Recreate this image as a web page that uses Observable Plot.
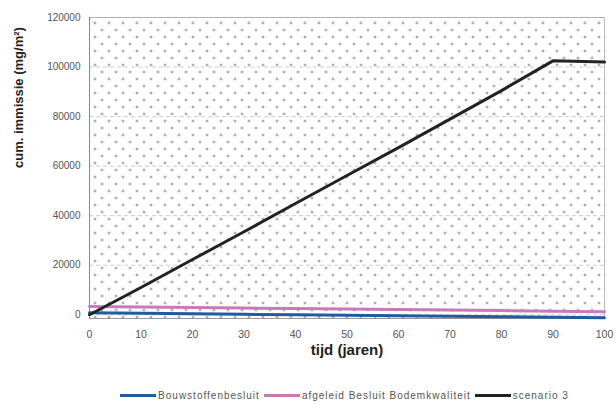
<!DOCTYPE html>
<html>
<head>
<meta charset="utf-8">
<script src="https://cdn.jsdelivr.net/npm/d3@7"></script>
<script src="https://cdn.jsdelivr.net/npm/@observablehq/plot@0.6"></script>
<style>
  body { margin: 0; background: #fff; font-family: "Liberation Sans", Arial, sans-serif; }
  #chart svg { display: block; }
  .legend { display: flex; justify-content: center; align-items: center; height: 20px; font-size: 10px; letter-spacing: 1px; color: #555; padding-left: 70px; }
  .legend span.sw { display: inline-block; width: 36px; height: 3px; margin: 0 2px 0 4px; vertical-align: middle; }
</style>
</head>
<body>
<div id="chart"></div>
<div class="legend" id="legend"></div>
<script>
// Cumulative immission (mg/m²) over time (years) for three cases
const years = [0, 10, 20, 30, 40, 50, 60, 70, 80, 90, 100];
const bouwstoffen = [800, 600, 400, 200, 0, -200, -400, -600, -800, -1000, -1200];
const bodemkwaliteit = [3300, 3100, 2900, 2700, 2500, 2300, 2100, 1900, 1700, 1400, 1200];
const scenario3 = [0, 11000, 22300, 33500, 44900, 56200, 67500, 79000, 90500, 102500, 102000];

const seriesNames = ["Bouwstoffenbesluit", "afgeleid Besluit Bodemkwaliteit", "scenario 3"];
const seriesColors = ["#1f5b9e", "#c87ab8", "#222222"];
const seriesValues = [bouwstoffen, bodemkwaliteit, scenario3];

const yTicks = [0, 20000, 40000, 60000, 80000, 100000, 120000];
const xTicks = [0, 10, 20, 30, 40, 50, 60, 70, 80, 90, 100];

const rows = seriesNames.flatMap((name, i) =>
  years.map((t, j) => ({series: name, t, v: seriesValues[i][j]}))
);

const plot = Plot.plot({
  width: 615,
  height: 385,
  marginLeft: 89,
  marginRight: 11,
  marginTop: 17,
  marginBottom: 67,
  style: {fontFamily: "'Liberation Sans', Arial, sans-serif", fontSize: "10px", color: "#555", background: "#fff"},
  x: {domain: [0, 100], ticks: xTicks, label: null, tickSize: 0, tickPadding: 12},
  y: {domain: [-1500, 120000], ticks: yTicks, label: null, tickSize: 0, tickPadding: 9, tickFormat: d3.format("d")},
  color: {domain: seriesNames, range: seriesColors},
  marks: [
    Plot.frame({fill: "url(#dots)", stroke: "#bbb", strokeWidth: 1}),
    Plot.gridY(yTicks, {stroke: "#999", strokeOpacity: 0.5, strokeDasharray: "4,3"}),
    Plot.ruleX([0], {stroke: "#888"}),
    Plot.ruleY([-1500], {stroke: "#999"}),
    Plot.axisX({ticks: xTicks, tickSize: 0, tickPadding: 12, fill: "#555", fontSize: 10.5, letterSpacing: "0.6px"}),
    Plot.axisY({ticks: yTicks, tickSize: 0, tickPadding: 9, tickFormat: d3.format("d"), fill: "#555", fontSize: 10, letterSpacing: "1px"}),
    Plot.line(rows, {x: "t", y: "v", z: "series", stroke: "series", strokeWidth: 3, curve: "linear"}),
    Plot.text(["tijd (jaren)"], {frameAnchor: "bottom", dy: 36, fontSize: 15, fontWeight: "bold", fill: "#222", text: d => d}),
    Plot.text(["cum. immissie (mg/m²)"], {frameAnchor: "left", dx: -71, rotate: -90, fontSize: 13, fontWeight: "bold", fill: "#222", text: d => d})
  ]
});

// dotted plot-area fill
const ns = "http://www.w3.org/2000/svg";
const defs = document.createElementNS(ns, "defs");
const pat = document.createElementNS(ns, "pattern");
pat.setAttribute("id", "dots");
pat.setAttribute("patternUnits", "userSpaceOnUse");
pat.setAttribute("x", 93);
pat.setAttribute("y", 21);
pat.setAttribute("width", 14);
pat.setAttribute("height", 14);
[[0, 0], [7, 7]].forEach(([cx, cy]) => {
  const c = document.createElementNS(ns, "circle");
  c.setAttribute("cx", cx + 1.5);
  c.setAttribute("cy", cy + 1.5);
  c.setAttribute("r", 1.1);
  c.setAttribute("fill", "#666");
  pat.appendChild(c);
});
defs.appendChild(pat);
plot.insertBefore(defs, plot.firstChild);
document.getElementById("chart").appendChild(plot);

// legend
const legend = document.getElementById("legend");
seriesNames.forEach((name, i) => {
  const sw = document.createElement("span");
  sw.className = "sw";
  sw.style.background = seriesColors[i];
  legend.appendChild(sw);
  const lab = document.createElement("span");
  lab.textContent = name;
  legend.appendChild(lab);
});
</script>
</body>
</html>
